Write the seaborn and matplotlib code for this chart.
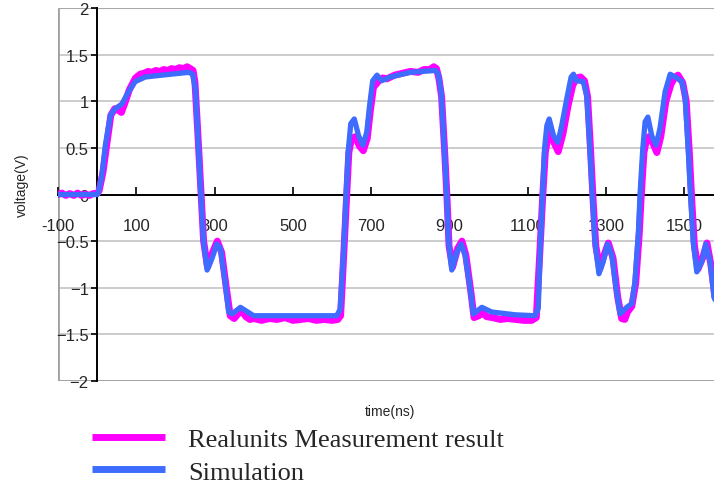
import numpy as np
import pandas as pd
import seaborn as sns
import matplotlib.pyplot as plt

# Waveforms: time in ns, voltage in V

# Simulation (blue)
sim_t = [-100, -50, 0, 3, 12, 21, 34, 46, 63, 80, 97, 123, 166, 234, 244,
         251, 259, 265, 272, 281, 293, 306, 315, 327, 336, 345, 366, 400,
         500, 612, 621, 630, 636, 642, 648, 657, 668, 679, 689, 696, 704,
         715, 727, 749, 800, 864, 872, 879, 887, 893, 898, 906, 919, 930,
         940, 953, 961, 983, 1008, 1068, 1119, 1127, 1132, 1138, 1143, 1149,
         1155, 1166, 1177, 1187, 1200, 1211, 1217, 1225, 1242, 1251, 1259,
         1265, 1272, 1282, 1293, 1304, 1315, 1326, 1336, 1353, 1366, 1374,
         1383, 1387, 1394, 1400, 1407, 1417, 1428, 1438, 1451, 1464, 1477,
         1494, 1502, 1510, 1516, 1523, 1532, 1545, 1555, 1566, 1576, 1585]
sim_v = [0.0, 0.0, 0.0, 0.02, 0.2, 0.53, 0.85, 0.92, 0.97, 1.1, 1.21, 1.26,
         1.28, 1.31, 1.29, 1.13, 0.49, 0.0, -0.51, -0.81, -0.69, -0.53, -0.58,
         -0.94, -1.26, -1.28, -1.21, -1.3, -1.3, -1.3, -1.23, -0.58, 0.0, 0.49,
         0.76, 0.81, 0.63, 0.53, 0.67, 0.95, 1.22, 1.28, 1.22, 1.26, 1.31,
         1.33, 1.29, 1.1, 0.49, 0.0, -0.51, -0.81, -0.62, -0.53, -0.65, -1.01,
         -1.28, -1.21, -1.26, -1.29, -1.3, -1.22, -0.58, 0.0, 0.49, 0.74, 0.81,
         0.63, 0.56, 0.74, 1.03, 1.26, 1.29, 1.22, 1.21, 1.06, 0.49, 0.0,
         -0.51, -0.85, -0.72, -0.53, -0.65, -1.01, -1.28, -1.21, -1.17, -0.94,
         -0.4, 0.0, 0.49, 0.78, 0.83, 0.63, 0.53, 0.71, 1.1, 1.29, 1.26, 1.21,
         1.06, 0.49, 0.0, -0.51, -0.83, -0.72, -0.53, -0.72, -1.1, -1.2]

# Real unit measurement (magenta), noisy
meas_t = [-100, -90, -80, -70, -60, -50, -40, -30, -20, -10, 0, 5, 15, 25,
          35, 45, 55, 62, 70, 82, 98, 110, 120, 130, 140, 150, 160, 170, 180,
          190, 200, 210, 220, 230, 238, 245, 250, 258, 265, 272, 282, 295,
          307, 318, 330, 340, 350, 360, 370, 380, 390, 400, 420, 440, 460,
          480, 500, 520, 540, 560, 580, 600, 615, 622, 630, 637, 643, 650,
          660, 670, 680, 690, 698, 706, 720, 730, 740, 760, 780, 800, 820,
          835, 850, 860, 867, 873, 880, 888, 894, 899, 908, 921, 932, 942,
          955, 963, 975, 985, 995, 1010, 1030, 1050, 1070, 1090, 1110, 1122,
          1130, 1138, 1145, 1152, 1158, 1168, 1178, 1190, 1203, 1215, 1225,
          1235, 1245, 1253, 1261, 1267, 1274, 1284, 1295, 1306, 1318, 1330,
          1340, 1348, 1355, 1366, 1376, 1385, 1390, 1397, 1404, 1410, 1420,
          1430, 1440, 1453, 1466, 1475, 1484, 1496, 1505, 1513, 1519, 1526,
          1535, 1547, 1558, 1568, 1580]
meas_v = [0.0, 0.015, -0.01, 0.01, -0.01, 0.015, -0.01, 0.005, -0.01, 0.01,
          0.01, 0.04, 0.24, 0.55, 0.85, 0.92, 0.9, 0.88, 0.97, 1.12, 1.25,
          1.29, 1.3, 1.32, 1.31, 1.33, 1.32, 1.34, 1.33, 1.35, 1.34, 1.36,
          1.35, 1.37, 1.35, 1.33, 1.2, 0.6, 0.05, -0.5, -0.78, -0.62, -0.5,
          -0.62, -1.0, -1.3, -1.33, -1.28, -1.25, -1.31, -1.34, -1.33, -1.35,
          -1.33, -1.34, -1.32, -1.35, -1.34, -1.33, -1.35, -1.34, -1.35, -1.34,
          -1.3, -0.65, -0.05, 0.45, 0.6, 0.62, 0.52, 0.47, 0.6, 0.9, 1.15, 1.22,
          1.25, 1.24, 1.28, 1.3, 1.32, 1.31, 1.34, 1.34, 1.37, 1.35, 1.25, 1.05,
          0.45, -0.05, -0.55, -0.78, -0.58, -0.5, -0.65, -1.05, -1.32, -1.3,
          -1.27, -1.31, -1.32, -1.34, -1.33, -1.34, -1.35, -1.35, -1.32, -0.7,
          -0.05, 0.45, 0.62, 0.7, 0.55, 0.46, 0.65, 0.95, 1.17, 1.25, 1.26,
          1.22, 1.05, 0.45, -0.05, -0.55, -0.8, -0.65, -0.52, -0.68, -1.1,
          -1.33, -1.34, -1.26, -1.2, -0.95, -0.42, -0.02, 0.45, 0.6, 0.62,
          0.55, 0.45, 0.62, 1.0, 1.18, 1.25, 1.28, 1.2, 1.0, 0.45, -0.05,
          -0.55, -0.8, -0.68, -0.52, -0.75, -1.15]

series_names = ['Realunits Measurement result', 'Simulation']
series_colors = ['#ff00ff', '#3d6cff']
x_ticks = [-100, 100, 300, 500, 700, 900, 1100, 1300, 1500]
y_ticks = [-2, -1.5, -1, -0.5, 0, 0.5, 1, 1.5, 2]
y_tick_labels = ['\u22122', '\u22121.5', '\u22121', '\u22120.5', '0', '0.5', '1', '1.5', '2']

meas_df = pd.DataFrame({'time': meas_t, 'voltage': meas_v})
sim_df = pd.DataFrame({'time': sim_t, 'voltage': sim_v})

sns.set_style('white')
plt.rcParams['font.family'] = ['Liberation Sans', 'DejaVu Sans']

fig = plt.figure(figsize=(7.14, 4.89), dpi=100)
ax = fig.add_axes([58 / 714, 1 - 382 / 489, 1 - 58 / 714, 373 / 489])

sns.lineplot(data=meas_df, x='time', y='voltage', ax=ax, sort=False,
             estimator=None, color=series_colors[0], linewidth=5.0,
             label=series_names[0])
sns.lineplot(data=sim_df, x='time', y='voltage', ax=ax, sort=False,
             estimator=None, color=series_colors[1], linewidth=3.8,
             label=series_names[1])

ax.set_xlim(-100, 1576)
ax.set_ylim(-2, 2)

# gridlines and plot area border
for yv in y_ticks:
    ax.axhline(yv, color='#c8c8c8', linewidth=1.3, zorder=0)
ax.axvline(-100, color='#a0a0a0', linewidth=2, zorder=0)
ax.axhline(-2, color='#a0a0a0', linewidth=2, zorder=0)
ax.axhline(2, color='#a8a8a8', linewidth=1.5, zorder=0)

# axes crossing at zero, like the spreadsheet chart
ax.spines['left'].set_position(('data', 0))
ax.spines['bottom'].set_position(('data', 0))
for side in ['left', 'bottom']:
    ax.spines[side].set_color('black')
    ax.spines[side].set_linewidth(1.4)
    ax.spines[side].set_zorder(1)
ax.spines['right'].set_visible(False)
ax.spines['top'].set_visible(False)

ax.set_xticks(x_ticks)
ax.set_xticklabels([str(x) for x in x_ticks])
ax.set_yticks(y_ticks)
ax.set_yticklabels(y_tick_labels)
ax.tick_params(axis='x', direction='in', length=6, width=1.2, pad=17,
               labelsize=12, color='black')
ax.tick_params(axis='y', direction='out', length=4, width=1.2, pad=2,
               labelsize=12, color='black')
ax.tick_params(axis='x', which='both', bottom=True)
ax.tick_params(axis='y', which='both', left=True)
ax.set_xlabel('')
ax.set_ylabel('')

fig.text(22 / 714, 1 - 185 / 489, 'voltage(V)', rotation=90, ha='center',
         va='center', fontsize=10)
fig.text(390 / 714, 1 - 412 / 489, 'time(ns)', ha='center', va='center',
         fontsize=10)

handles, labels = ax.get_legend_handles_labels()
ax.get_legend().remove()
leg = fig.legend(handles, labels, loc='upper left',
                 bbox_to_anchor=(92 / 714, 1 - 429 / 489), frameon=False,
                 prop={'family': 'Liberation Serif', 'size': 19},
                 handlelength=2.75, handletextpad=0.9, labelspacing=0.33,
                 borderaxespad=0, borderpad=0)
for line in leg.get_lines():
    line.set_linewidth(5)
    line.set_solid_capstyle('butt')

plt.savefig('out.png', dpi=100)
plt.close()
